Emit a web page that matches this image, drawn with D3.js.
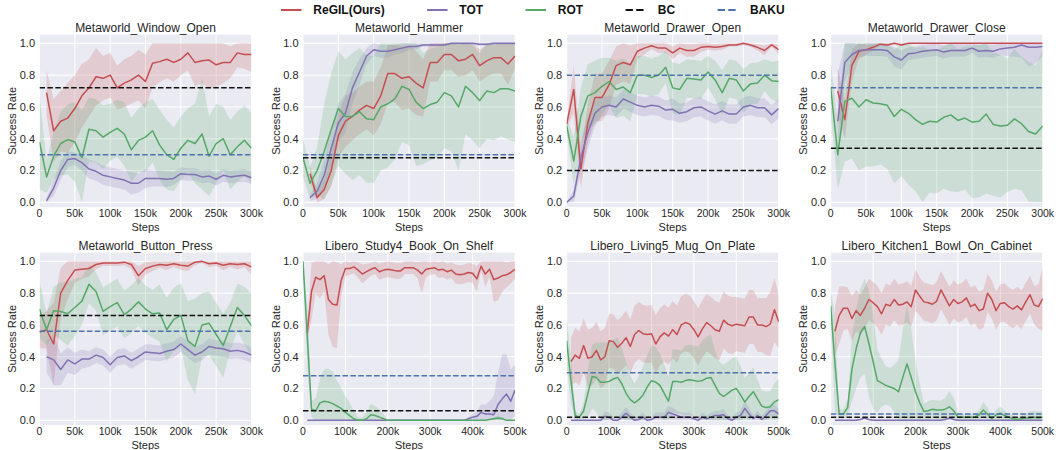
<!DOCTYPE html>
<meta charset="utf-8">
<style>
  body {
    margin: 0;
    background: #fff;
    font-family: "Liberation Sans", Arial, Helvetica, sans-serif;
  }
  svg { display: block; }
</style>
<body>
<script src="https://d3js.org/d3.v7.min.js"></script>
<script>

// ---- data ----
var titles = ["Metaworld_Window_Open", "Metaworld_Hammer", "Metaworld_Drawer_Open", "Metaworld_Drawer_Close",
              "Metaworld_Button_Press", "Libero_Study4_Book_On_Shelf", "Libero_Living5_Mug_On_Plate", "Libero_Kitchen1_Bowl_On_Cabinet"];
var maxSteps = [300000, 300000, 300000, 300000, 300000, 500000, 500000, 500000];
var ticks300 = [0, 50000, 100000, 150000, 200000, 250000, 300000];
var ticks500 = [0, 100000, 200000, 300000, 400000, 500000];
var yTicks = [0, 0.2, 0.4, 0.6, 0.8, 1.0];
var legendNames = ["ReGIL(Ours)", "TOT", "ROT", "BC", "BAKU"];
var bcLevels = [0.72, 0.28, 0.20, 0.34, 0.66, 0.06, 0.02, 0.02];
var bakuLevels = [0.30, 0.30, 0.80, 0.72, 0.56, 0.28, 0.30, 0.04];

// Metaworld_Window_Open
var woRegil = [null,0.69,0.45,0.51,0.53,0.59,0.67,0.72,0.79,0.78,0.80,0.72,0.75,0.77,0.80,0.76,0.875,0.885,0.90,0.88,0.90,0.94,0.88,0.89,0.895,0.865,0.88,0.88,0.94,0.93,0.93];
var woRegilSd = [null,.14,.2,.19,.22,.21,.2,.18,.18,.14,.14,.14,.15,.15,.16,.17,.15,.13,.12,.12,.1,.11,.15,.14,.18,.14,.13,.1,.09,.09,.11];
var woTot = [null,0.01,0.09,0.20,0.27,0.275,0.25,0.21,0.195,0.17,0.16,0.15,0.14,0.12,0.12,0.15,0.15,0.15,0.145,0.15,0.18,0.175,0.175,0.16,0.165,0.145,0.17,0.16,0.165,0.17,0.155];
var woTotSd = [null,.02,.05,.06,.05,.04,.05,.06,.06,.06,.06,.06,.06,.07,.06,.06,.05,.05,.05,.04,.04,.04,.04,.04,.04,.04,.04,.04,.04,.04,.04];
var woRot = [0.38,0.16,0.29,0.37,0.395,0.38,0.28,0.46,0.45,0.41,0.44,0.465,0.43,0.33,0.39,0.41,0.45,0.36,0.30,0.27,0.34,0.39,0.37,0.43,0.29,0.37,0.40,0.30,0.35,0.39,0.34];
var woRotSd = [.3,.1,.15,.2,.22,.25,.3,.2,.2,.2,.18,.18,.2,.2,.2,.22,.2,.22,.22,.2,.2,.2,.25,.35,.25,.25,.2,.22,.22,.22,.22];

// Metaworld_Hammer
var hmRegil = [null,0.18,0.03,0.08,0.20,0.42,0.51,0.54,0.58,0.61,0.59,0.67,0.81,0.81,0.78,0.79,0.75,0.72,0.88,0.88,0.93,0.93,0.89,0.90,0.93,0.86,0.89,0.91,0.91,0.87,0.92];
var hmRegilSd = [null,.05,.04,.06,.1,.14,.16,.15,.15,.15,.17,.18,.18,.18,.2,.2,.2,.18,.12,.12,.1,.1,.1,.1,.1,.1,.1,.1,.1,.13,.08];
var hmTot = [null,0.03,0.07,0.17,0.34,0.50,0.56,0.72,0.82,0.92,0.96,0.95,0.95,0.96,0.97,0.98,0.98,0.99,0.99,0.99,0.99,1.0,1.0,1.0,1.0,0.995,0.995,1.0,1.0,1.0,1.0];
var hmTotSd = [null,.02,.05,.1,.12,.12,.12,.1,.08,.05,.04,.04,.04,.03,.03,.02,.02,.01,.01,.01,.01,.01,.01,.01,.01,.01,.01,.01,.01,.01,.01];
var hmRot = [0.28,0.12,0.20,0.32,0.46,0.59,0.54,0.54,0.57,0.525,0.52,0.60,0.62,0.65,0.73,0.71,0.63,0.59,0.615,0.63,0.69,0.67,0.60,0.73,0.69,0.64,0.70,0.69,0.715,0.715,0.70];
var hmRotSd = [.12,.1,.15,.3,.35,.36,.36,.4,.4,.4,.4,.4,.4,.38,.35,.35,.4,.35,.35,.35,.35,.35,.4,.3,.3,.3,.3,.3,.3,.32,.32];

// Metaworld_Drawer_Open
var doRegil = [0.49,0.71,0.21,0.50,0.66,0.66,0.74,0.86,0.88,0.865,0.95,0.97,0.985,0.97,0.97,0.94,0.97,0.955,0.955,0.975,0.98,0.975,0.98,0.99,0.99,1.0,0.99,0.975,0.955,0.99,0.96];
var doRegilSd = [.02,.15,.12,.12,.15,.15,.15,.12,.12,.12,.05,.04,.02,.03,.03,.04,.03,.04,.04,.03,.02,.02,.02,.01,.01,.01,.01,.02,.03,.01,.03];
var doTot = [0.0,0.04,0.28,0.44,0.56,0.60,0.61,0.60,0.65,0.63,0.61,0.60,0.61,0.605,0.58,0.585,0.56,0.57,0.595,0.60,0.575,0.555,0.575,0.555,0.555,0.60,0.61,0.595,0.595,0.55,0.59];
var doTotSd = [0,.04,.1,.1,.08,.06,.06,.06,.06,.06,.06,.06,.06,.06,.06,.07,.06,.06,.06,.06,.06,.06,.06,.06,.06,.06,.06,.06,.06,.06,.06];
var doRot = [0.48,0.26,0.54,0.67,0.69,0.73,0.76,0.71,0.725,0.69,0.80,0.80,0.785,0.80,0.85,0.72,0.71,0.78,0.775,0.77,0.82,0.77,0.69,0.78,0.77,0.70,0.745,0.75,0.80,0.765,0.76];
var doRotSd = [.05,.15,.18,.2,.2,.18,.15,.18,.18,.18,.12,.12,.12,.12,.1,.16,.16,.12,.12,.12,.1,.12,.14,.12,.12,.14,.13,.13,.1,.12,.13];

// Metaworld_Drawer_Close
var dcRegil = [null,0.70,0.52,0.86,0.95,0.96,0.975,0.995,0.99,1.0,0.99,1,1,1,1,1,1,1,1,1,1,1,1,1,1,1,1,1,1,1,1];
var dcRegilSd = [null,.15,.12,.1,.05,.03,.02,.01,.01,0,.01,0,0,0,0,0,0,0,0,0,0,0,0,0,0,0,0,0,0,0,0];
var dcTot = [null,0.51,0.88,0.93,0.955,0.96,0.96,0.96,0.955,0.915,0.895,0.935,0.94,0.95,0.955,0.96,0.945,0.955,0.955,0.955,0.97,0.95,0.955,0.95,0.965,0.97,0.975,0.99,0.975,0.975,0.98];
var dcTotSd = [null,.3,.12,.07,.04,.04,.04,.04,.04,.06,.06,.04,.04,.04,.04,.04,.04,.04,.04,.04,.03,.04,.04,.04,.04,.05,.06,.08,.12,.1,.06];
var dcRot = [0.72,0.30,0.635,0.655,0.60,0.645,0.625,0.62,0.61,0.54,0.585,0.56,0.52,0.49,0.51,0.505,0.535,0.55,0.515,0.53,0.505,0.51,0.555,0.49,0.48,0.485,0.525,0.495,0.445,0.43,0.48];
var dcRotSd = [.16,.22,.38,.38,.4,.42,.4,.38,.4,.42,.42,.45,.45,.49,.45,.45,.45,.48,.45,.45,.48,.48,.5,.45,.45,.42,.44,.42,.44,.43,.48];

// Metaworld_Button_Press
var bpRegil = [0.555,0.57,0.48,0.80,0.88,0.945,0.95,0.955,0.98,0.99,0.99,0.99,0.995,0.98,0.91,0.955,0.97,0.98,0.975,0.985,0.975,0.97,0.995,1.0,0.985,0.99,0.975,0.985,0.98,0.985,0.965];
var bpRegilSd = [.1,.12,.26,.16,.12,.08,.06,.05,.03,.02,.02,.02,.02,.03,.06,.04,.03,.02,.03,.02,.03,.03,.02,.01,.02,.02,.03,.02,.03,.02,.05];
var bpTot = [null,0.40,0.38,0.32,0.38,0.355,0.385,0.385,0.41,0.395,0.35,0.395,0.405,0.375,0.40,0.43,0.425,0.42,0.435,0.445,0.48,0.445,0.41,0.43,0.465,0.455,0.45,0.435,0.44,0.43,0.41];
var bpTotSd = [null,.1,.16,.1,.08,.07,.06,.05,.05,.05,.05,.05,.05,.05,.05,.05,.05,.05,.05,.05,.05,.05,.05,.05,.05,.05,.05,.05,.05,.05,.05];
var bpRot = [0.70,0.57,0.69,0.685,0.67,0.71,0.75,0.855,0.81,0.685,0.715,0.74,0.665,0.70,0.745,0.70,0.67,0.675,0.57,0.635,0.66,0.50,0.465,0.60,0.61,0.54,0.47,0.59,0.71,0.66,0.595];
var bpRotSd = [.18,.1,.15,.18,.2,.18,.15,.12,.12,.15,.15,.15,.15,.15,.15,.15,.15,.18,.2,.2,.2,.25,.3,.2,.2,.2,.2,.15,.15,.18,.2];

// Libero_Study4_Book_On_Shelf
var bkRegil = [null,0.55,0.81,0.90,0.885,0.91,0.76,0.73,0.725,0.88,0.955,0.955,0.965,0.945,0.92,0.935,0.95,0.96,0.935,0.945,0.95,0.945,0.94,0.94,0.96,0.96,0.96,0.945,0.92,0.95,0.955,0.96,0.945,0.95,0.935,0.945,0.92,0.915,0.92,0.93,0.925,0.89,0.97,0.92,0.95,0.885,0.895,0.91,0.915,0.93,0.95];
var bkRegilSd = [null,.05,.18,.1,.12,.1,.22,.27,.27,.1,.05,.04,.04,.05,.06,.05,.04,.04,.05,.05,.05,.05,.05,.05,.04,.04,.04,.05,.12,.05,.04,.04,.05,.05,.05,.05,.06,.06,.06,.06,.06,.08,.03,.08,.05,.14,.14,.1,.08,.07,.06];
var bkTot = [null,0,0,0,0,0,0,0,0,0,0,0,0,0,0,0,0,0,0,0,0,0,0,0,0,0,0,0,0,0,0,0,0,0,0,0,0,0,0,0.01,0.02,0.025,0.05,0.04,0.04,0.035,0.10,0.135,0.165,0.12,0.19];
var bkTotSd = [null,0,0,0,0,0,0,0,0,0,0,0,0,0,0,0,0,0,0,0,0,0,0,0,0,0,0,0,0,0,0,0,0,0,0,0,0,0,0,.01,.02,.03,.05,.06,.08,.12,.2,.28,.25,.2,.16];
var bkRot = [1.0,0.53,0.07,0.06,0.11,0.12,0.115,0.105,0.09,0.075,0.05,0.03,0.01,0,0,0.01,0.035,0.03,0.02,0.01,0,0,0,0,0,0,0,0,0,0,0,0,0,0,0,0,0,0,0,0,0,0,0,0,0.005,0.01,0.015,0.01,0,0,0];
var bkRotSd = [0,.2,.05,.08,.15,.2,.21,.2,.16,.13,.1,.08,.05,.02,.02,.04,.07,.06,.05,.03,0,0,0,0,0,0,0,0,0,0,0,0,0,0,0,0,0,0,0,0,0,0,0,0,.005,.01,.015,.01,0,0,0];

// Libero_Living5_Mug_On_Plate
var mgRegil = [null,0.37,0.41,0.39,0.47,0.39,0.40,0.44,0.38,0.40,0.50,0.495,0.46,0.485,0.52,0.465,0.54,0.565,0.545,0.54,0.545,0.48,0.525,0.55,0.53,0.57,0.54,0.60,0.615,0.605,0.57,0.525,0.575,0.615,0.595,0.57,0.56,0.63,0.605,0.595,0.605,0.60,0.595,0.65,0.65,0.60,0.60,0.59,0.605,0.695,0.62];
var mgRegilSd = [null,.15,.17,.17,.17,.18,.18,.18,.18,.18,.17,.17,.17,.17,.17,.17,.18,.18,.18,.18,.18,.18,.18,.18,.18,.18,.18,.18,.18,.18,.18,.18,.18,.18,.18,.18,.18,.18,.18,.18,.17,.17,.17,.17,.17,.17,.17,.18,.2,.2,.17];
var mgTot = [null,0,0,0,0,0,0,0,0,0.025,0.02,0,0,0.02,0.045,0.02,0,0.005,0.02,0,0.005,0.02,0.02,0.02,0.05,0.04,0.03,0.02,0.02,0.02,0.01,0,0.02,0.01,0.02,0.03,0.03,0.035,0.01,0,0.02,0.03,0.075,0.04,0.01,0.03,0.005,0.03,0.06,0.06,0.04];
var mgTotSd = [null,0,0,0,0,0,0,0,.01,.03,.03,.02,.02,.03,.04,.03,.02,.02,.03,.02,.02,.03,.03,.03,.04,.04,.03,.03,.03,.03,.02,.02,.03,.02,.03,.03,.03,.04,.02,.02,.03,.03,.05,.04,.02,.03,.02,.03,.04,.04,.03];
var mgRot = [0.50,0.25,0.03,0.02,0.06,0.17,0.275,0.27,0.24,0.24,0.245,0.26,0.27,0.23,0.17,0.13,0.11,0.13,0.16,0.21,0.25,0.24,0.22,0.17,0.12,0.245,0.245,0.24,0.25,0.255,0.25,0.245,0.25,0.265,0.27,0.22,0.17,0.15,0.17,0.19,0.20,0.16,0.115,0.15,0.18,0.135,0.09,0.08,0.085,0.115,0.13];
var mgRotSd = [.15,.15,.03,.02,.05,.15,.2,.22,.25,.25,.25,.25,.25,.22,.2,.15,.12,.15,.18,.2,.22,.22,.2,.18,.15,.2,.2,.2,.22,.22,.22,.22,.25,.26,.27,.22,.2,.2,.2,.2,.2,.18,.15,.15,.15,.12,.1,.1,.1,.12,.13];

// Libero_Kitchen1_Bowl_On_Cabinet
var kbRegil = [null,0.56,0.66,0.705,0.705,0.64,0.69,0.66,0.705,0.76,0.74,0.715,0.67,0.73,0.72,0.76,0.725,0.73,0.745,0.715,0.82,0.78,0.745,0.74,0.73,0.75,0.82,0.77,0.72,0.76,0.735,0.745,0.77,0.715,0.73,0.69,0.70,0.80,0.76,0.69,0.735,0.74,0.715,0.70,0.72,0.695,0.745,0.79,0.725,0.715,0.765];
var kbRegilSd = [null,.15,.18,.14,.13,.14,.13,.13,.13,.13,.13,.13,.13,.13,.13,.13,.13,.13,.13,.13,.13,.12,.12,.12,.12,.12,.12,.12,.12,.12,.12,.12,.12,.12,.12,.12,.12,.12,.12,.12,.12,.12,.12,.12,.12,.12,.12,.12,.12,.14,.2];
var kbTot = [null,0,0,0,0,0,0,0.005,0.015,0.005,0,0,0,0,0,0,0,0,0,0,0,0,0,0,0,0,0,0.005,0.015,0.005,0,0,0,0,0,0,0,0,0,0,0,0,0,0,0,0,0,0,0,0,0];
var kbTotSd = [null,.005,.005,.005,.005,.005,.005,.005,.005,.005,.005,.005,.005,.005,.005,.005,.005,.005,.005,.005,.005,.005,.005,.005,.005,.005,.005,.005,.005,.005,.005,.005,.005,.005,.005,.005,.005,.005,.005,.005,.005,.005,.005,.005,.005,.005,.005,.005,.005,.005,.005];
var kbRot = [0.72,0.36,0.04,0.04,0.08,0.32,0.45,0.55,0.59,0.485,0.37,0.25,0.235,0.22,0.21,0.2,0.18,0.27,0.355,0.27,0.18,0.11,0.055,0.06,0.07,0.065,0.065,0.07,0.085,0.06,0.02,0.02,0.02,0.02,0.02,0.035,0.065,0.04,0.01,0.035,0.045,0.03,0.02,0.01,0.005,0.01,0.015,0.015,0.02,0.015,0.02];
var kbRotSd = [.1,.3,.03,.03,.05,.2,.25,.28,.3,.33,.3,.2,.15,.12,.12,.15,.2,.3,.37,.3,.2,.12,.05,.06,.06,.06,.06,.07,.1,.08,.03,.02,.02,.02,.02,.03,.05,.04,.02,.03,.04,.03,.02,.02,.01,.02,.03,.04,.04,.04,.04];

var panelSeries = [
  [[woRegil, woRegilSd], [woTot, woTotSd], [woRot, woRotSd]],
  [[hmRegil, hmRegilSd], [hmTot, hmTotSd], [hmRot, hmRotSd]],
  [[doRegil, doRegilSd], [doTot, doTotSd], [doRot, doRotSd]],
  [[dcRegil, dcRegilSd], [dcTot, dcTotSd], [dcRot, dcRotSd]],
  [[bpRegil, bpRegilSd], [bpTot, bpTotSd], [bpRot, bpRotSd]],
  [[bkRegil, bkRegilSd], [bkTot, bkTotSd], [bkRot, bkRotSd]],
  [[mgRegil, mgRegilSd], [mgTot, mgTotSd], [mgRot, mgRotSd]],
  [[kbRegil, kbRegilSd], [kbTot, kbTotSd], [kbRot, kbRotSd]]
];

// ---- layout / style ----
var width = 1056,
    height = 450,
    pw = 212,
    ph = 172.5;
var colLeft = [39.5, 303, 566.7, 830.7],
    rowTop = [34.6, 252.6];

var seriesColors = ["#C44E52", "#8172B2", "#55A868"];
var bcColor = "#111111",
    bakuColor = "#4C72B0",
    textColor = "#262626";

var svg = d3.select("body").append("svg")
    .attr("width", width)
    .attr("height", height);

var y = d3.scaleLinear()
    .domain([-0.03, 1.055])
    .range([ph, 0]);

var fmtY = d3.format(".1f");
function fmtX(d) { return d === 0 ? "0" : (d / 1000) + "k"; }

titles.forEach(function(title, i) {
  var g = svg.append("g")
      .attr("transform", "translate(" + colLeft[i % 4] + "," + rowTop[Math.floor(i / 4)] + ")");

  var x = d3.scaleLinear()
      .domain([0, maxSteps[i]])
      .range([0, pw]);
  var xTicks = maxSteps[i] === 300000 ? ticks300 : ticks500;
  var steps = d3.range(0, maxSteps[i] + 1, 10000);

  g.append("rect")
      .attr("width", pw)
      .attr("height", ph)
      .attr("fill", "#EAEAF2");

  g.append("clipPath").attr("id", "clip" + i)
    .append("rect").attr("width", pw).attr("height", ph);

  // grid
  g.selectAll(".gy").data(yTicks).enter().append("line")
      .attr("x1", 0).attr("x2", pw)
      .attr("y1", function(d) { return y(d); })
      .attr("y2", function(d) { return y(d); })
      .attr("stroke", "#fff").attr("stroke-width", 1);
  g.selectAll(".gx").data(xTicks).enter().append("line")
      .attr("y1", 0).attr("y2", ph)
      .attr("x1", function(d) { return x(d); })
      .attr("x2", function(d) { return x(d); })
      .attr("stroke", "#fff").attr("stroke-width", 1);

  var plot = g.append("g").attr("clip-path", "url(#clip" + i + ")");

  var rows = panelSeries[i].map(function(s) {
    return steps.map(function(st, k) { return { x: st, m: s[0][k], s: s[1][k] }; });
  });

  var area = d3.area()
      .defined(function(d) { return d.m != null; })
      .x(function(d) { return x(d.x); })
      .y0(function(d) { return y(Math.max(0, d.m - d.s)); })
      .y1(function(d) { return y(Math.min(1, d.m + d.s)); });

  var line = d3.line()
      .defined(function(d) { return d.m != null; })
      .x(function(d) { return x(d.x); })
      .y(function(d) { return y(d.m); });

  rows.forEach(function(r, k) {
    plot.append("path")
        .attr("d", area(r))
        .attr("fill", seriesColors[k])
        .attr("fill-opacity", 0.2);
  });
  rows.forEach(function(r, k) {
    plot.append("path")
        .attr("d", line(r))
        .attr("fill", "none")
        .attr("stroke", seriesColors[k])
        .attr("stroke-width", 1.5)
        .attr("stroke-linejoin", "round");
  });

  [[bcLevels[i], bcColor], [bakuLevels[i], bakuColor]].forEach(function(h) {
    plot.append("line")
        .attr("x1", x(0)).attr("x2", x(maxSteps[i]))
        .attr("y1", y(h[0])).attr("y2", y(h[0]))
        .attr("stroke", h[1])
        .attr("stroke-width", 1.5)
        .attr("stroke-dasharray", "5.5,2.4");
  });

  // tick labels
  g.selectAll(".ty").data(yTicks).enter().append("text")
      .attr("x", -4.5)
      .attr("y", function(d) { return y(d); })
      .attr("dy", "0.35em")
      .attr("text-anchor", "end")
      .attr("font-size", 11)
      .attr("fill", textColor)
      .text(fmtY);
  g.selectAll(".tx").data(xTicks).enter().append("text")
      .attr("x", function(d) { return x(d); })
      .attr("y", ph + 10.2)
      .attr("text-anchor", "middle")
      .attr("font-size", 10.5)
      .attr("fill", textColor)
      .text(fmtX);

  g.append("text")
      .attr("x", pw / 2).attr("y", ph + 24)
      .attr("text-anchor", "middle")
      .attr("font-size", 11)
      .attr("fill", textColor)
      .text("Steps");
  g.append("text")
      .attr("transform", "translate(-23.5," + (ph / 2) + ")rotate(-90)")
      .attr("text-anchor", "middle")
      .attr("font-size", 11)
      .attr("fill", textColor)
      .text("Success Rate");
  g.append("text")
      .attr("x", pw / 2).attr("y", -3)
      .attr("text-anchor", "middle")
      .attr("font-size", 12)
      .attr("fill", textColor)
      .text(title);
});

// legend
var legendColors = [seriesColors[0], seriesColors[1], seriesColors[2], bcColor, bakuColor];
var legend = svg.append("g").attr("transform", "translate(0,10)");
var lx = 281;
legendNames.forEach(function(name, k) {
  legend.append("line")
      .attr("x1", lx).attr("x2", lx + 20.5)
      .attr("stroke", legendColors[k])
      .attr("stroke-width", 2)
      .attr("stroke-dasharray", k >= 3 ? "7.4,3.2" : null);
  var t = legend.append("text")
      .attr("x", lx + 32.3)
      .attr("dy", "0.35em")
      .attr("font-size", 12)
      .attr("font-weight", "bold")
      .attr("fill", "#111")
      .text(name);
  lx += 32.3 + t.node().getComputedTextLength() + 42.4;
});

</script>
</body>
